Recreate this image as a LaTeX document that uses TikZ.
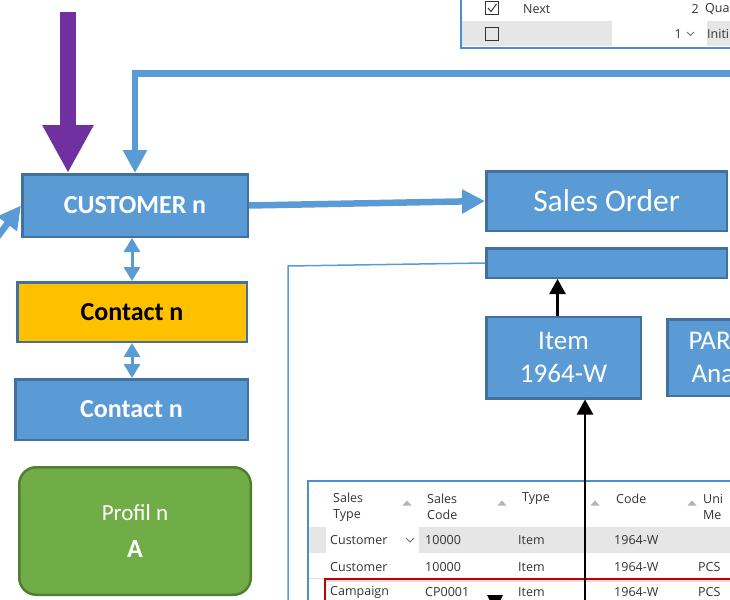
\documentclass[tikz,border=0pt]{standalone}
\usepackage{fontspec}
\setmainfont{Carlito}
\newfontfamily\uifont{Open Sans}
\usetikzlibrary{arrows.meta,calc}

\definecolor{boxblue}{HTML}{5B9BD5}
\definecolor{boxedge}{HTML}{41719C}
\definecolor{ctgold}{HTML}{FFC000}
\definecolor{prgreen}{HTML}{70AD47}
\definecolor{prgreenedge}{HTML}{507E32}
\definecolor{flowpurple}{HTML}{7030A0}
\definecolor{flowblue}{HTML}{5B9BD5}
\definecolor{gridblue}{HTML}{4A8FD6}
\definecolor{rowgray}{HTML}{E6E6E6}
\definecolor{uitext}{HTML}{333333}
\definecolor{sortgray}{HTML}{B4B4B4}
\definecolor{selred}{HTML}{C00000}
\definecolor{sepgray}{HTML}{DDDDDD}

\tikzset{
  box/.style={draw=boxedge, line width=2.5pt, fill=boxblue, text=white,
    inner sep=0pt, align=center},
  boldlbl/.style={font=\fontsize{26}{30}\selectfont\bfseries},
  dblarrow/.style={draw=flowblue, line width=3pt,
    {Triangle[length=14pt,width=16pt]}-{Triangle[length=14pt,width=16pt]}},
  blkarrow/.style={draw=black, line width=2.5pt,
    -{Triangle[length=15pt,width=16pt]}},
  fatarrow/.style={draw=flowblue, line width=6.5pt,
    -{Triangle[length=23pt,width=23pt]}},
  cell/.style={anchor=west, inner sep=0pt, text=uitext,
    font=\uifont\fontsize{12.5}{16}\selectfont, align=left},
  cellr/.style={cell, anchor=east},
  gridline/.style={draw=gridblue, line width=1.5pt},
}

\begin{document}
\begin{tikzpicture}[x=1pt,y=-1pt]
\useasboundingbox (0,0) rectangle (730,599);
\clip (0,0) rectangle (730,599);

% ---------- top-right list panel ----------
\fill[rowgray] (462,21) rectangle (731,46.5);
\fill[white] (612,21) rectangle (707,46.5);
\draw[gridline] (461,-5) -- (461,48) -- (740,48);
\draw[uitext, line width=1pt] (485.5,1.5) rectangle (498.5,14.5);
\draw[uitext, line width=1pt] (488,8) -- (491,11.5) -- (496.5,4);
\draw[uitext, line width=1pt] (485.5,27.5) rectangle (498.5,40.5);
\node[cell] (nxt) at (523,9) {Next};
\node[cellr] (q2) at (699,9) {2};
\node[cell] (qua) at (705,9) {Qua};
\node[cellr] (q1) at (682,34) {1};
\draw[uitext!70, line width=0.8pt] (687,32) -- (690.5,35.5) -- (694,32);
\node[cell] (ini) at (707,34) {Initi};

% ---------- bottom price list ----------
\fill[rowgray] (309,527) rectangle (731,553);
\fill[white] (326,527) rectangle (419,553);
\draw[gridline] (308,620) -- (308,481) -- (740,481);
\draw[sepgray, line width=0.8pt] (309,578) -- (325,578);
\foreach \sx in {407,502,595,692}
  \fill[sortgray] (\sx-4.5,505.5) -- (\sx+4.5,505.5) -- (\sx,500.5) -- cycle;
\node[cell] (h1) at (333,507) {Sales\\Type};
\node[cell] (h2) at (427,507) {Sales\\Code};
\node[cell] (h3) at (522,499) {Type};
\node[cell] (h4) at (616,499) {Code};
\node[cell] (h5) at (703,507) {Uni\\Me};
% row 1
\node[cell] (r1a) at (330,540) {Customer};
\draw[uitext!70, line width=0.8pt] (406,538) -- (410,542) -- (414,538);
\node[cell] (r1b) at (425,540) {10000};
\node[cell] (r1c) at (518,540) {Item};
\node[cell] (r1d) at (614,540) {1964-W};
% row 2
\node[cell] (r2a) at (330,567) {Customer};
\node[cell] (r2b) at (425,567) {10000};
\node[cell] (r2c) at (518,567) {Item};
\node[cell] (r2d) at (614,567) {1964-W};
\node[cell] (r2e) at (698,567) {PCS};
% row 3 (selected)
\draw[sepgray, line width=1.5pt] (326,581) -- (740,581);
\draw[selred, line width=1.5pt] (325,579) rectangle (745,630);
\node[cell] (r3a) at (330,592) {Campaign};
\node[cell] (r3b) at (425,592) {CP0001};
\node[cell] (r3c) at (518,592) {Item};
\node[cell] (r3d) at (614,592) {1964-W};
\node[cell] (r3e) at (698,592) {PCS};
\fill[black] (487,595) -- (503,595) -- (495,611) -- cycle;

% ---------- boxes ----------
\node[box, boldlbl, minimum width=225.5pt, minimum height=62.5pt] (cust) at (135,205.5) {CUSTOMER n};
\node[box, boldlbl, fill=ctgold, text=black, minimum width=229.5pt, minimum height=59.5pt] (yc) at (132,312) {Contact n};
\node[box, boldlbl, minimum width=232.5pt, minimum height=60.5pt] (bc) at (131.5,409.5) {Contact n};
\node[box, draw=prgreenedge, fill=prgreen, rounded corners=17pt,
  minimum width=231.5pt, minimum height=127.5pt,
  font=\fontsize{23}{37}\selectfont] (prof) at (135,531)
  {Profil n\\{\fontsize{26}{30}\selectfont\bfseries A}};
\node[box, minimum width=240.5pt, minimum height=59.5pt,
  font=\fontsize{31.5}{34}\selectfont] (so) at (606.5,201) {Sales Order};
\node[box, minimum width=240.5pt, minimum height=29.5pt] (bar) at (606.5,263) {};
\node[box, minimum width=154.5pt, minimum height=81.5pt,
  font=\fontsize{27}{33}\selectfont] (item) at (563.5,357.5) {Item\\1964-W};
\node[box, minimum width=150.5pt, minimum height=76.5pt, align=left,
  text width=110pt, inner xsep=21pt,
  font=\fontsize{27}{33}\selectfont] (par) at (743.5,357.5) {PAR\\\hspace*{3pt}Ana};

% ---------- connectors ----------
\coordinate (purpTop) at (68,12);
\draw[flowpurple, line width=16pt, -{Triangle[length=48pt,width=48pt]}]
  (purpTop) -- (purpTop |- cust.north);

\coordinate (feedR) at (745,73.5);
\draw[fatarrow, line join=miter] (feedR) -| (cust.north);

\coordinate (inL) at (-14,252);
\draw[fatarrow] (inL) -- (cust.west);

\draw[fatarrow] (cust.east) -- (so.west);

\draw[dblarrow] (yc.north |- cust.south) -- (yc.north);
\draw[dblarrow] (yc.south) -- (yc.south |- bc.north);

\coordinate (frameC) at (288,266);
\coordinate (frameB) at (288,620);
\draw[flowblue, line width=1.5pt] (bar.west) -- (frameC) -- (frameB);

\draw[blkarrow] ([xshift=-6pt]item.north) -- ([xshift=-6pt]item.north |- bar.south);

\coordinate (itemFeed) at (585,620);
\draw[blkarrow] (itemFeed) -- (itemFeed |- item.south);
\end{tikzpicture}
\end{document}
